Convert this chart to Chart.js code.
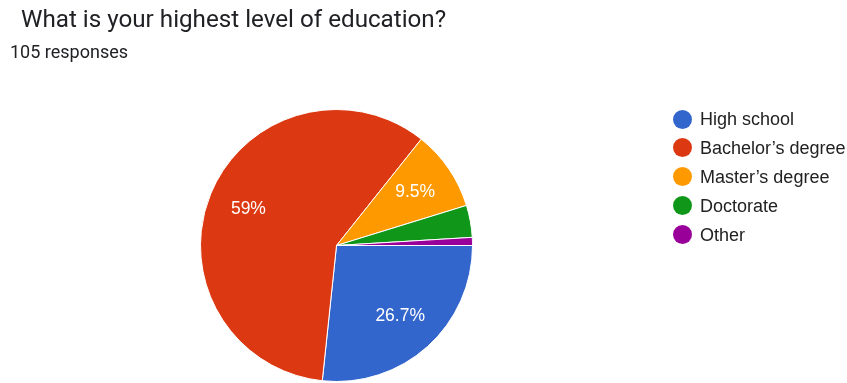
<!DOCTYPE html>
<html lang="en">
<head>
  <meta charset="UTF-8">
  <title>What is your highest level of education?</title>
  <script src="https://cdn.jsdelivr.net/npm/chart.js"></script>
  <style>
    body {
      margin: 0;
      background: #fff;
      width: 847px;
      height: 383px;
      overflow: hidden;
      position: relative;
    }

    #chart {
      position: absolute;
      left: 0;
      top: 0;
    }

    .title {
      position: absolute;
      left: 21px;
      top: 4px;
      font-family: Roboto, sans-serif;
      font-size: 24.2px;
      line-height: 30px;
      color: #202124;
      white-space: nowrap;
    }

    .subtitle {
      position: absolute;
      left: 10px;
      top: 42px;
      font-family: Roboto, sans-serif;
      font-size: 18px;
      line-height: 20px;
      color: #202124;
      white-space: nowrap;
    }

    .legend-item {
      position: absolute;
      left: 673px;
      height: 20px;
      display: flex;
      align-items: center;
      font-family: "Liberation Sans", Arial, sans-serif;
      font-size: 18px;
      line-height: 20px;
      color: #222;
      white-space: nowrap;
    }

    .legend-item .dot {
      width: 19px;
      height: 19px;
      border-radius: 50%;
      margin-right: 8px;
    }
  </style>
</head>
<body>
<canvas id="chart" width="847" height="383"></canvas>
<div class="title">What is your highest level of education?</div>
<div class="subtitle">105 responses</div>
<div id="legend"></div>

<script>
  // answers, in the order google draws them (clockwise from 3 o'clock)
  const categories = ['High school', 'Bachelor’s degree', 'Master’s degree', 'Doctorate', 'Other'];
  const responses = [28, 62, 10, 4, 1];
  const sliceColors = ['#3366cc', '#dc3912', '#ff9900', '#109618', '#990099'];

  const total = responses.reduce((a, b) => a + b, 0);

  function pctText(v) {
    var p = (v / total * 100).toFixed(1);
    if (p.endsWith('.0')) p = p.slice(0, -2);
    return p + '%';
  }

  // white percentage labels inside the bigger slices
  const sliceLabels = {
    id: 'sliceLabels',
    afterDatasetsDraw(chart) {
      const ctx = chart.ctx;
      const meta = chart.getDatasetMeta(0);
      ctx.save();
      ctx.font = '17.5px "Liberation Sans", Arial, sans-serif';
      ctx.fillStyle = '#fff';
      ctx.textAlign = 'center';
      ctx.textBaseline = 'middle';
      meta.data.forEach((arc, i) => {
        const v = responses[i];
        if (v / total < 0.05) return;
        const p = arc.getProps(['x', 'y', 'startAngle', 'endAngle', 'outerRadius'], true);
        const mid = (p.startAngle + p.endAngle) / 2;
        const r = p.outerRadius * 0.7;
        ctx.fillText(pctText(v), p.x + Math.cos(mid) * r, p.y + Math.sin(mid) * r);
      });
      ctx.restore();
    }
  };

  new Chart(document.getElementById('chart'), {
    type: 'pie',
    data: {
      labels: categories,
      datasets: [{
        data: responses,
        backgroundColor: sliceColors,
        borderColor: '#fff',
        borderWidth: 1
      }]
    },
    options: {
      responsive: false,
      animation: false,
      rotation: 90,
      layout: {
        padding: { left: 200, right: 374, top: 109, bottom: 1 }
      },
      plugins: {
        legend: { display: false },
        tooltip: { enabled: false }
      }
    },
    plugins: [sliceLabels]
  });

  // legend on the right
  const legendEl = document.getElementById('legend');
  const legendTop = 109;
  const legendStep = 28.9;
  categories.forEach((name, i) => {
    const item = document.createElement('div');
    item.className = 'legend-item';
    item.style.top = (legendTop + i * legendStep) + 'px';
    const dot = document.createElement('span');
    dot.className = 'dot';
    dot.style.background = sliceColors[i];
    const txt = document.createElement('span');
    txt.textContent = name;
    item.appendChild(dot);
    item.appendChild(txt);
    legendEl.appendChild(item);
  });
</script>
</body>
</html>
